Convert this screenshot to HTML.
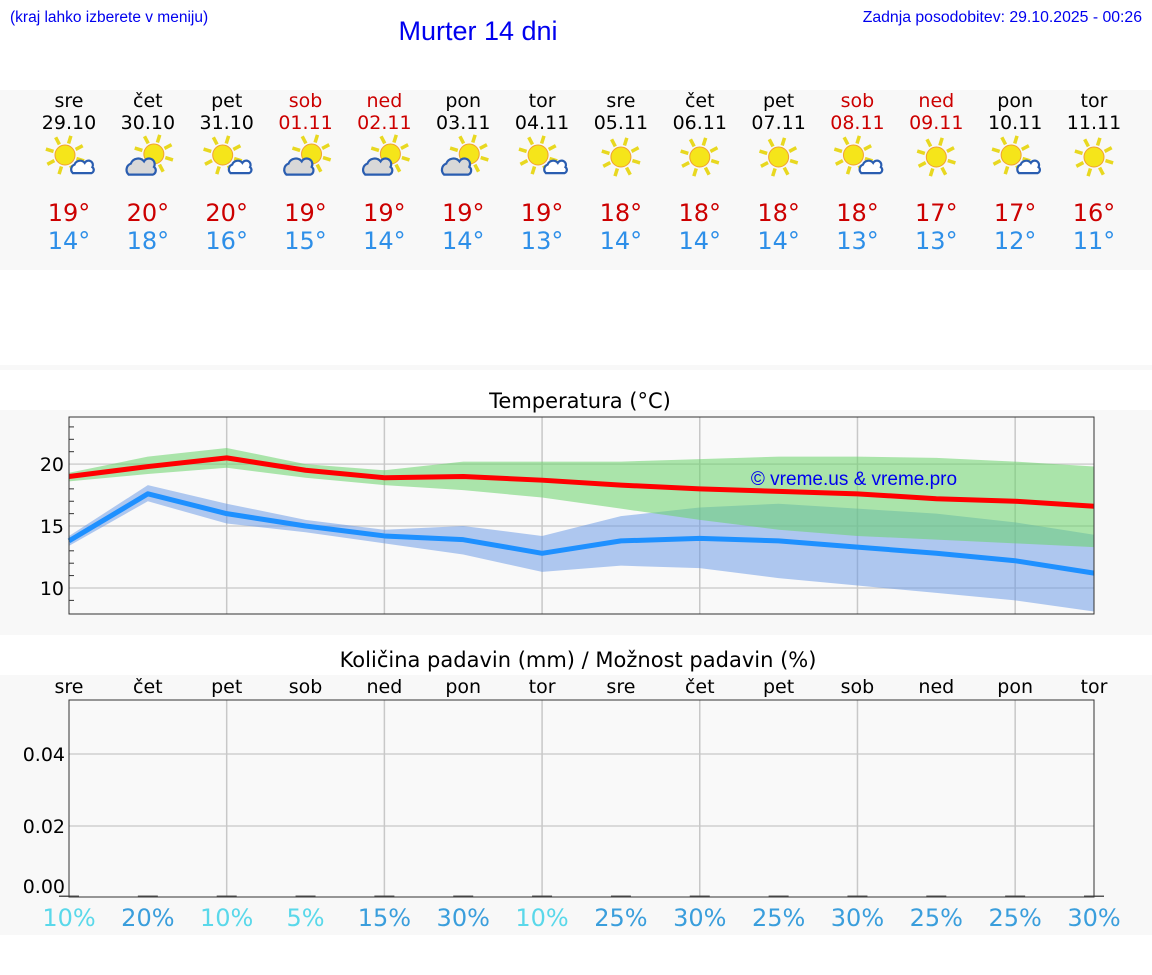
<!DOCTYPE html>
<html><head><meta charset="utf-8"><style>
body{margin:0;width:1152px;height:975px;background:#fff;font-family:"Liberation Sans","DejaVu Sans",sans-serif;overflow:hidden}
svg{position:absolute;left:0;top:0}
</style></head><body>
<svg id="s" width="1152" height="975" xmlns="http://www.w3.org/2000/svg" font-family="DejaVu Sans, Liberation Sans, sans-serif">
<rect x="0" y="90" width="1152" height="180" fill="#f8f8f8"/>
<rect x="0" y="365" width="1152" height="5" fill="#f8f8f8"/>
<rect x="0" y="410" width="1152" height="225" fill="#f8f8f8"/>
<rect x="0" y="675" width="1152" height="260" fill="#f8f8f8"/>
<text x="10" y="22" font-family="Liberation Sans, sans-serif" font-size="15.5" fill="#0000ee">(kraj lahko izberete v meniju)</text>
<text x="478" y="40" text-anchor="middle" font-family="Liberation Sans, sans-serif" font-size="27" fill="#0000ee">Murter 14 dni</text>
<text x="1142" y="22" text-anchor="end" font-family="Liberation Sans, sans-serif" font-size="15.8" fill="#0000ee">Zadnja posodobitev: 29.10.2025 - 00:26</text>
<text x="580" y="408" text-anchor="middle" font-size="21" fill="#000">Temperatura (°C)</text>
<text x="578" y="667" text-anchor="middle" font-size="21" fill="#000">Količina padavin (mm) / Možnost padavin (%)</text>
<g id="days"></g>
<g id="temp"></g>
<g id="prec"></g>
</svg>
<script>
const dayNames=["sre","čet","pet","sob","ned","pon","tor","sre","čet","pet","sob","ned","pon","tor"];
const dates=["29.10","30.10","31.10","01.11","02.11","03.11","04.11","05.11","06.11","07.11","08.11","09.11","10.11","11.11"];
const weekend=[0,0,0,1,1,0,0,0,0,0,1,1,0,0];
const icons=["sc","cl","sc","cl","cl","cl","sc","sun","sun","sun","sc","sun","sc","sun"];
const maxT=[19,20,20,19,19,19,19,18,18,18,18,17,17,16];
const minT=[14,18,16,15,14,14,13,14,14,14,13,13,12,11];
const maxLine=[19.0,19.8,20.5,19.5,18.9,19.0,18.7,18.3,18.0,17.8,17.6,17.2,17.0,16.6];
const maxHi=[19.3,20.6,21.3,20.0,19.5,20.2,20.2,20.2,20.4,20.6,20.6,20.5,20.2,19.8];
const maxLo=[18.6,19.2,19.7,18.9,18.3,17.9,17.3,16.4,15.5,14.7,14.2,13.9,13.6,13.3];
const minLine=[13.8,17.6,16.0,15.0,14.2,13.9,12.8,13.8,14.0,13.8,13.3,12.8,12.2,11.2];
const minHi=[14.2,18.3,16.8,15.5,14.7,15.0,14.2,15.8,16.5,16.8,16.4,16.0,15.3,14.3];
const minLo=[13.4,17.0,15.2,14.5,13.6,12.7,11.3,11.8,11.6,10.8,10.2,9.6,9.0,8.1];
const tempTicks=[10,15,20];
const precip=[0,0,0,0,0,0,0,0,0,0,0,0,0,0];
const precipTicks=[0,0.02,0.04];
const precipTickLabels=["0.00","0.02","0.04"];
const chance=[10,20,10,5,15,30,10,25,30,25,30,25,25,30];

const NS="http://www.w3.org/2000/svg";
function mk(tag,attrs,parent,txt){const e=document.createElementNS(NS,tag);for(const k in attrs)e.setAttribute(k,attrs[k]);if(txt!==undefined)e.textContent=txt;parent.appendChild(e);return e;}
const X0=69,X1=1094;
const xs=i=>X0+i*(X1-X0)/13;
const T0=417,T1=614,tMin=7.9,tMax=23.8;
const yT=v=>T1-(v-tMin)/(tMax-tMin)*(T1-T0);
const P0=700,P1=897,pMax=0.055;
const yP=v=>898-v*(898-P0)/pMax;

const D=document.getElementById('days');
function sun(g,cx,cy,r){
  for(let k=0;k<8;k++){const a=k*Math.PI/4+0.3;
    mk('line',{x1:cx+Math.cos(a)*(r+2),y1:cy+Math.sin(a)*(r+2),x2:cx+Math.cos(a)*(r+10),y2:cy+Math.sin(a)*(r+10),stroke:'#e8d820','stroke-width':3.5},g);}
  mk('circle',{cx:cx,cy:cy,r:r,fill:'#f5e51a',stroke:'#f0a030','stroke-width':1},g);
}
function cloud(g,cx,cy,s,fill){
  mk('path',{d:`M${cx-12*s},${cy+6*s} a${6*s},${6*s} 0 0 1 ${2*s},${-10*s} a${7*s},${7*s} 0 0 1 ${12*s},${-2*s} a${5*s},${5*s} 0 0 1 ${9*s},${5*s} a${4*s},${4*s} 0 0 1 ${-1*s},${7*s} Z`,fill:fill,stroke:'#2a5db0','stroke-width':2.2},g);
}
for(let i=0;i<14;i++){
  const x=xs(i);
  const col=weekend[i]?'#cc0000':'#000';
  const g=mk('g',{},D);
  
  
  mk('text',{x:x,y:107,'text-anchor':'middle','font-size':19,fill:col},g,dayNames[i]);
  mk('text',{x:x,y:129,'text-anchor':'middle','font-size':19,fill:col},g,dates[i]);
  const ic=mk('g',{},g);
  
  
  if(icons[i]==='sun'){sun(ic,x,157,10);}
  else if(icons[i]==='sc'){sun(ic,x-4,155,10);cloud(ic,x+14,168,0.85,'#fff');}
  else {sun(ic,x+6,154,10);cloud(ic,x-6,168,1.1,'#d8d8d8');}
  mk('text',{x:x,y:221,'text-anchor':'middle','font-size':24,fill:'#cc0000'},g,maxT[i]+'°');
  mk('text',{x:x,y:249,'text-anchor':'middle','font-size':24,fill:'#2e8fe8'},g,minT[i]+'°');
}

const T=document.getElementById('temp');
mk('rect',{x:X0,y:T0,width:X1-X0,height:T1-T0,fill:'#f9f9f9'},T);
tempTicks.forEach(v=>{
  const l=mk('line',{x1:X0,x2:X1,y1:yT(v),y2:yT(v),stroke:'#d0d0d0','stroke-width':1.5},T);
  
  
  const t=mk('text',{x:X0-5,y:yT(v)+7,'text-anchor':'end','font-size':19,fill:'#000'},T,v);
  
  
});
for(let v=9;v<=23;v++){ if(v%5) mk('line',{x1:X0,x2:X0+5,y1:yT(v),y2:yT(v),stroke:'#333','stroke-width':1},T); }
for(let i=2;i<14;i+=2){ mk('line',{x1:xs(i),x2:xs(i),y1:T0,y2:T1,stroke:'#c8c8c8','stroke-width':1.5},T); }
function band(hi,lo,fill,name){
  let d='M'+hi.map((v,i)=>xs(i)+','+yT(v)).join(' L')+' L'+lo.map((v,i)=>xs(i)+','+yT(v)).reverse().join(' L')+' Z';
  const p=mk('path',{d:d,fill:fill},T);
  
  
}
band(minHi,minLo,'rgba(100,150,230,0.5)','min-temp-range');
band(maxHi,maxLo,'rgba(105,212,105,0.55)','max-temp-range');
function line(arr,col,name){
  const p=mk('polyline',{points:arr.map((v,i)=>xs(i)+','+yT(v)).join(' '),fill:'none',stroke:col,'stroke-width':5,'stroke-linejoin':'round'},T);
  
  
}
line(maxLine,'#ff0000','max-temp-line');
line(minLine,'#1e90ff','min-temp-line');
mk('rect',{x:X0,y:T0,width:X1-X0,height:T1-T0,fill:'none',stroke:'#333','stroke-width':1},T);
const wm=mk('text',{x:854,y:485,'text-anchor':'middle','font-family':'Liberation Sans, sans-serif','font-size':19,fill:'#0000ee'},T,'© vreme.us & vreme.pro');



const P=document.getElementById('prec');
for(let i=0;i<14;i++){
  const t=mk('text',{x:xs(i),y:693,'text-anchor':'middle','font-size':19,fill:'#000'},P,dayNames[i]);
  
  
}
mk('rect',{x:X0,y:P0,width:X1-X0,height:P1-P0,fill:'#f9f9f9'},P);
precipTicks.forEach((v,k)=>{
  if(v>0) mk('line',{x1:X0,x2:X1,y1:yP(v),y2:yP(v),stroke:'#d0d0d0','stroke-width':1.5},P);
  const t=mk('text',{x:X0-4,y:Math.min(yP(v),886)+7,'text-anchor':'end','font-size':19,fill:'#000'},P,precipTickLabels[k]);
  
  
});
for(let i=2;i<14;i+=2){ mk('line',{x1:xs(i),x2:xs(i),y1:P0,y2:P1,stroke:'#c8c8c8','stroke-width':1.5},P); }
for(let i=0;i<14;i++){
  const h=Math.max(1.5,yP(0)-yP(precip[i]));
  const b=mk('rect',{x:xs(i)-10,y:P1-h,width:20,height:h,fill:'#555'},P);
  
  
}
mk('rect',{x:X0,y:P0,width:X1-X0,height:P1-P0,fill:'none',stroke:'#333','stroke-width':1},P);
for(let i=0;i<14;i++){
  const t=mk('text',{x:xs(i),y:926,'text-anchor':'middle','font-size':24,fill:chance[i]<=10?'#5ad8ea':'#3a9edc'},P,chance[i]+'%');
  
  
}
</script>
</body></html>
